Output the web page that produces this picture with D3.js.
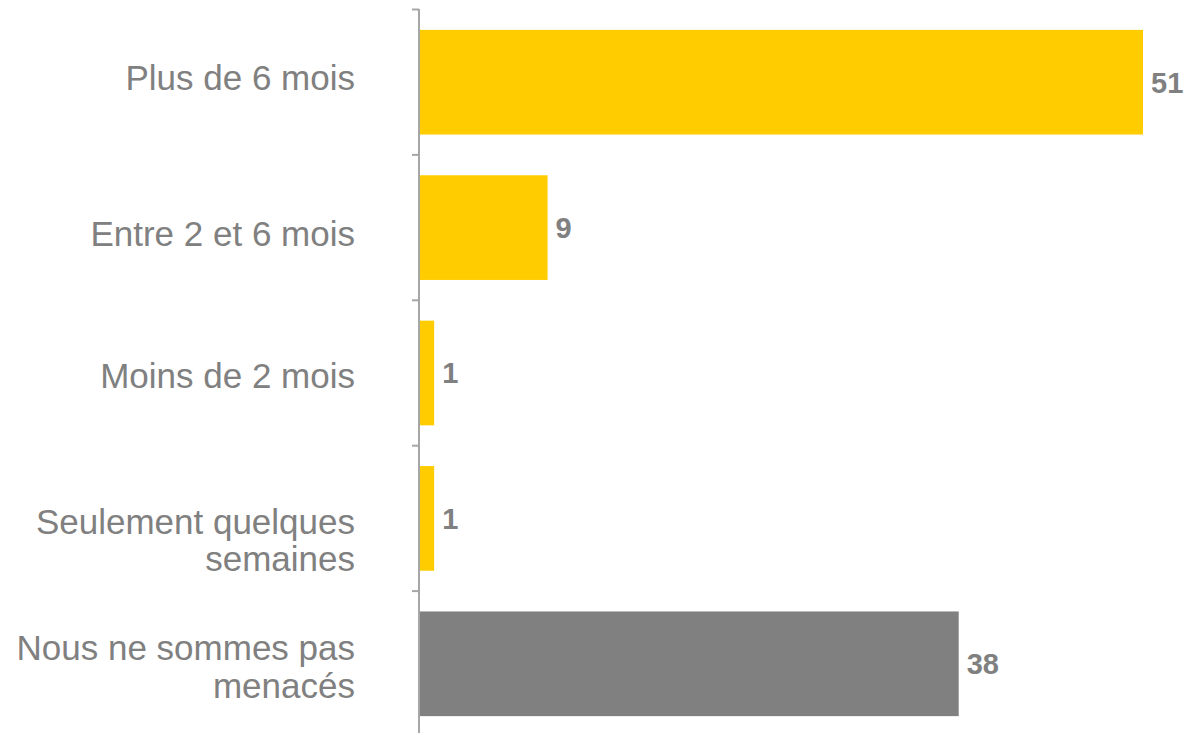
<!DOCTYPE html>
<html>
<head>
<meta charset="utf-8">
<script src="https://cdn.jsdelivr.net/npm/d3@7"></script>
<style>
  html, body { margin: 0; padding: 0; background: #ffffff; }
  svg { display: block; font-family: "Liberation Sans", Arial, Helvetica, sans-serif; }
</style>
</head>
<body>
<svg id="chart" width="1203" height="733"></svg>
<script>
// ---- Data ----
const categories = [
  "Plus de 6 mois",
  "Entre 2 et 6 mois",
  "Moins de 2 mois",
  "Seulement quelques\nsemaines",
  "Nous ne sommes pas\nmenacés"
];
const values = [51, 9, 1, 1, 38];
const highlightCategory = "Nous ne sommes pas\nmenacés";

// ---- Layout ----
const W = 1203, H = 733;
const axisX = 419;
const yTop = 9.5, yBottom = 736.5;
const barStartX = 420, barEndMax = 1143;
// small vertical nudges of the category labels (layout only)
const labelNudge = [-4, 6, 3, 22, 3];

const data = categories.map((c, i) => ({ cat: c, value: values[i], i }));

const x = d3.scaleLinear()
  .domain([0, d3.max(values)])
  .range([barStartX, barEndMax]);

const y = d3.scaleBand()
  .domain(categories)
  .range([yTop, yBottom])
  .paddingInner(0.28)
  .paddingOuter(0.14);

const svg = d3.select("#chart");

const yellow = "#FFCC00";
const grey = "#808080";
const textGrey = "#808080";
const axisGrey = "#A6A6A6";

// Bars
svg.append("g").selectAll("rect")
  .data(data)
  .join("rect")
  .attr("x", x(0))
  .attr("y", d => y(d.cat))
  .attr("width", d => x(d.value) - x(0))
  .attr("height", y.bandwidth())
  .attr("fill", d => d.cat === highlightCategory ? grey : yellow);

// Axis line and ticks at band boundaries
const axisG = svg.append("g");
axisG.append("line")
  .attr("x1", axisX).attr("x2", axisX)
  .attr("y1", yTop - 0.5).attr("y2", yBottom)
  .attr("stroke", axisGrey).attr("stroke-width", 2);
const boundaries = d3.range(categories.length + 1).map(i => yTop + i * y.step());
axisG.selectAll("line.tick")
  .data(boundaries)
  .join("line")
  .attr("class", "tick")
  .attr("x1", axisX - 7).attr("x2", axisX)
  .attr("y1", d => d).attr("y2", d => d)
  .attr("stroke", axisGrey).attr("stroke-width", 2);

// Category labels
const fontSize = 35;
const lineH = 37.5;
const capHalf = 34 * 0.358;
svg.append("g").selectAll("text")
  .data(data)
  .join("text")
  .attr("text-anchor", "end")
  .attr("fill", textGrey)
  .attr("font-size", fontSize)
  .each(function(d) {
    const lines = d.cat.split("\n");
    const cy = y(d.cat) + y.bandwidth() / 2 + labelNudge[d.i];
    const firstBaseline = cy + capHalf - (lines.length - 1) * lineH / 2;
    d3.select(this).selectAll("tspan")
      .data(lines)
      .join("tspan")
      .attr("x", 355)
      .attr("y", (l, i) => firstBaseline + i * lineH)
      .text(l => l);
  });

// Value labels
const vFont = 29;
svg.append("g").selectAll("text")
  .data(data)
  .join("text")
  .attr("x", d => x(d.value) + 8)
  .attr("y", d => y(d.cat) + y.bandwidth() / 2 + vFont * 0.358)
  .attr("fill", textGrey)
  .attr("font-size", vFont)
  .attr("font-weight", "bold")
  .text(d => d.value);
</script>
</body>
</html>
